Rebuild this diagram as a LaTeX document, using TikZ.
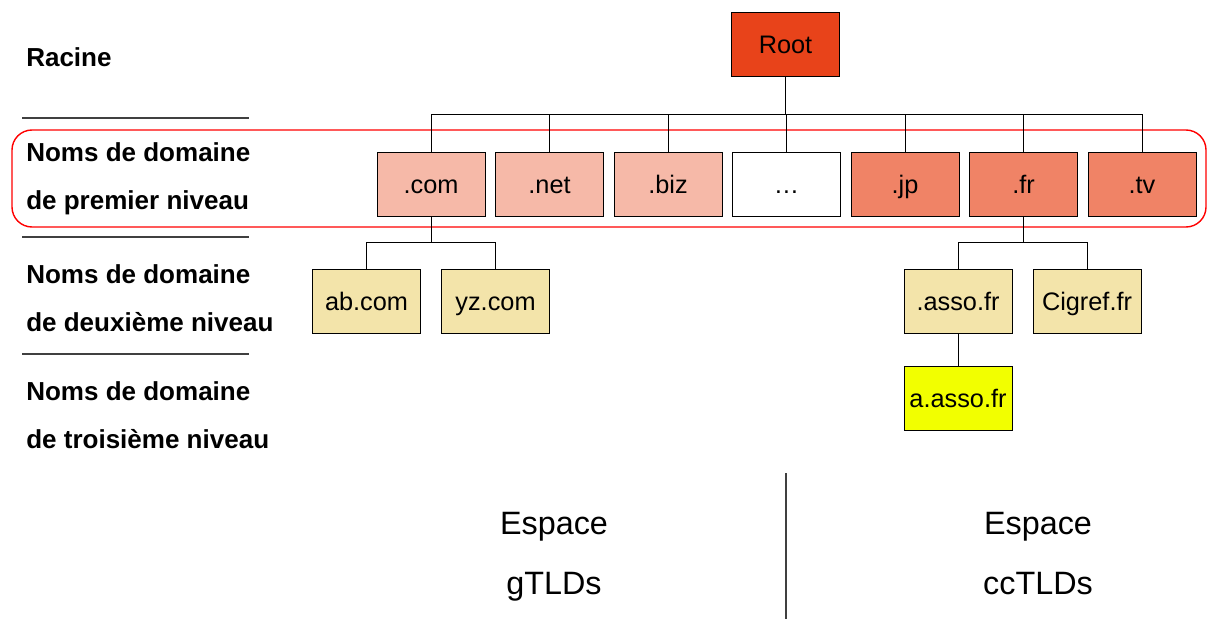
\documentclass[tikz,border=0pt]{standalone}
\usepackage{fontspec}
\setmainfont{Liberation Sans}
\definecolor{rootcol}{RGB}{232,67,26}
\definecolor{gcol}{RGB}{246,185,168}
\definecolor{cccol}{RGB}{240,131,102}
\definecolor{seccol}{RGB}{243,228,170}
\definecolor{thirdcol}{RGB}{242,255,0}

\begin{document}
\begin{tikzpicture}[x=0.025cm, y=-0.025cm,
	dom/.style = {draw, semithick, minimum width=2.7cm, minimum height=1.6cm, inner sep=0pt, text height=14pt, text depth=1.2pt, font=\fontsize{18}{20}\selectfont},
	lvl/.style = {anchor=west, align=left, inner sep=0pt, font=\fontsize{18.5}{34}\selectfont\bfseries},
	sep/.style = {draw=black!75, line width=1pt},
	space/.style = {align=center, inner sep=0pt, text height=16pt, text depth=5pt, font=\fontsize{23}{43}\selectfont}]
	\useasboundingbox (0,0) rectangle (1208,619);
	
	% levels on the left
	\node[lvl] (racine) at (26,57) {Racine};
	\node[lvl] (first) at (26,179) {Noms de domaine\\de premier niveau};
	\node[lvl] (second) at (26,298) {Noms de domaine\\de deuxième niveau};
	\node[lvl] (third) at (26,415) {Noms de domaine\\de troisième niveau};
	\draw[sep] (22,118) -- (249,118);
	\draw[sep] (22,237) -- (249,237);
	\draw[sep] (22,354) -- (249,354);
	
	\draw[red, line width=1pt, rounded corners=0.5cm] (12,130) rectangle (1206,227);
	
	% tree
	\node[dom, fill=rootcol] (root) at (785.5,44) {Root};
	\foreach \n/\t/\c [count=\i from 0] in {com/.com/gcol, net/.net/gcol, biz/.biz/gcol, etc/…/white, jp/.jp/cccol, fr/.fr/cccol, tv/.tv/cccol}
		\node[dom, fill=\c] (\n) at (431+118.5*\i,184) {\t};
	\foreach \n in {com,net,biz,etc,jp,fr,tv}
		\draw (root.south) -- ++(0,38) -| (\n.north);
	
	\node[dom, fill=seccol] (ab) at (366.5,301.5) {ab.com};
	\node[dom, fill=seccol] (yz) at (495.5,301.5) {yz.com};
	\node[dom, fill=seccol] (asso) at (958,301.5) {.asso.fr};
	\node[dom, fill=seccol] (cigref) at (1087,301.5) {Cigref.fr};
	\node[dom, fill=thirdcol] (aasso) at (958,398) {a.asso.fr};
	\foreach \n in {ab,yz}
		\draw (com.south) -- ++(0,26) -| (\n.north);
	\foreach \n in {asso,cigref}
		\draw (fr.south) -- ++(0,26) -| (\n.north);
	\draw (asso) -- (aasso);
	
	% bottom
	\node[space] (gspace) at (554,587) {Espace\\gTLDs};
	\node[space] (ccspace) at (1038,587) {Espace\\ccTLDs};
	\draw[black!75, line width=1pt] (786,473) -- (786,619);
\end{tikzpicture}
\end{document}
